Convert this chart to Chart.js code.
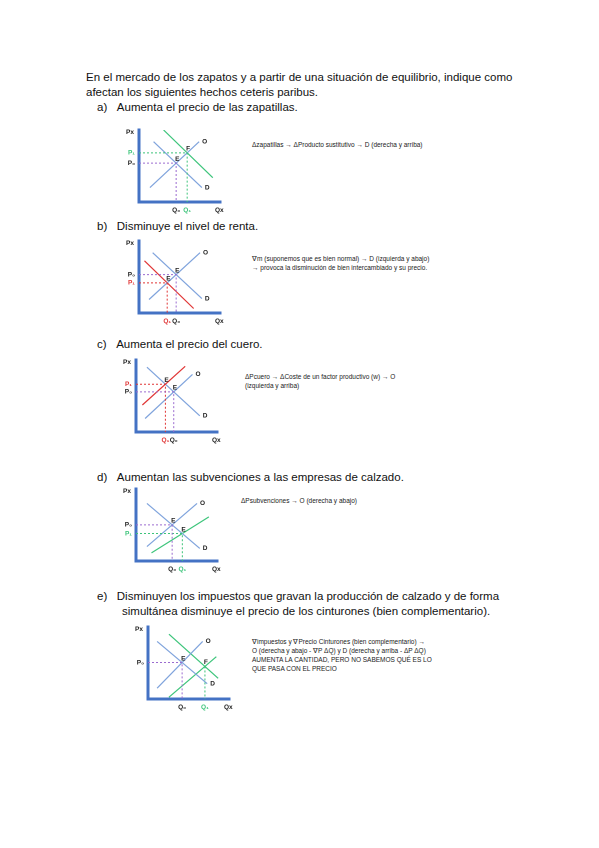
<!DOCTYPE html>
<html><head><meta charset="utf-8">
<script src="https://cdn.jsdelivr.net/npm/chart.js@4.4.0/dist/chart.umd.min.js"></script>
<style>
body{margin:0;background:#fff;font-family:"Liberation Sans",Arial,sans-serif;color:#111}
.t{position:absolute;font-size:11.5px;white-space:nowrap}
.s{position:absolute;font-size:6.5px;line-height:9px;white-space:nowrap;color:#222}
canvas{position:absolute}
</style></head><body>
<div class="t" style="left:86px;top:71px">En el mercado de los zapatos y a partir de una situación de equilibrio, indique como</div>
<div class="t" style="left:86px;top:86px">afectan los siguientes hechos ceteris paribus.</div>
<div class="t" style="left:97px;top:101px">a)&nbsp;&nbsp;&nbsp;Aumenta el precio de las zapatillas.</div>
<div class="t" style="left:97px;top:220px">b)&nbsp;&nbsp;&nbsp;Disminuye el nivel de renta.</div>
<div class="t" style="left:97px;top:338px">c)&nbsp;&nbsp;&nbsp;Aumenta el precio del cuero.</div>
<div class="t" style="left:97px;top:471px">d)&nbsp;&nbsp;&nbsp;Aumentan las subvenciones a las empresas de calzado.</div>
<div class="t" style="left:97px;top:590px">e)&nbsp;&nbsp;&nbsp;Disminuyen los impuestos que gravan la producción de calzado y de forma</div>
<div class="t" style="left:122px;top:605px">simultánea disminuye el precio de los cinturones (bien complementario).</div>
<div class="s" style="left:252px;top:140px">Δzapatillas → ΔProducto sustitutivo → D (derecha y arriba)</div>
<div class="s" style="left:252px;top:254px">∇m (suponemos que es bien normal) → D (izquierda y abajo)<br>→ provoca la disminución de bien intercambiado y su precio.</div>
<div class="s" style="left:245px;top:372px">ΔPcuero → ΔCoste de un factor productivo (w) → O<br>(izquierda y arriba)</div>
<div class="s" style="left:241px;top:496px">ΔPsubvenciones → O (derecha y abajo)</div>
<div class="s" style="left:252px;top:637px">∇impuestos y ∇Precio Cinturones (bien complementario) →<br>O (derecha y abajo - ∇P ΔQ) y D (derecha y arriba - ΔP ΔQ)<br>AUMENTA LA CANTIDAD, PERO NO SABEMOS QUÉ ES LO<br>QUE PASA CON EL PRECIO</div>

<canvas id="ca"></canvas><canvas id="cb"></canvas><canvas id="cc"></canvas><canvas id="cd"></canvas><canvas id="ce"></canvas>
<script>
const BLUE = '#7fa3dc', AXIS = '#4472c4', GREEN = '#3cc47a', RED = '#e03535', PURPLE = '#9b6bd0';

// curves: [start, end] in local units (x 0..90, y 0..80)
const chartA = { id: 'ca', axisX: 131, bottom: 210,
  curves: [{ n: 'O', p: [[12, 16], [66, 67]], c: BLUE, lab: 'O' }, { n: 'D', p: [[16, 67], [69, 16]], c: BLUE, lab: 'D' }, { n: 'D1', p: [[27, 80], [81, 27]], c: GREEN }],
  eq: [{ a: 'O', b: 'D', lab: 'E', c: PURPLE, tc: '#222', p: 'P₀', q: 'Q₀' }, { a: 'O', b: 'D1', lab: 'F', c: GREEN, tc: GREEN, p: 'P₁', q: 'Q₁' }] };
const chartB = { id: 'cb', axisX: 131, bottom: 321,
  curves: [{ n: 'O', p: [[11, 15], [67, 67]], c: BLUE, lab: 'O' }, { n: 'D', p: [[15, 67], [69, 16]], c: BLUE, lab: 'D' }, { n: 'D1', p: [[6, 58], [60, 5]], c: RED }],
  eq: [{ a: 'O', b: 'D', lab: 'E', c: PURPLE, tc: '#222', p: 'P₀', q: 'Q₀' }, { a: 'O', b: 'D1', lab: 'E', c: RED, tc: RED, p: 'P₁', q: 'Q₁' }] };
const chartC = { id: 'cc', axisX: 128, bottom: 440,
  curves: [{ n: 'O', p: [[10, 15], [62, 64]], c: BLUE, lab: 'O' }, { n: 'O1', p: [[7, 30], [54, 73]], c: RED }, { n: 'D', p: [[12, 72], [70, 18]], c: BLUE, lab: 'D' }],
  eq: [{ a: 'O', b: 'D', lab: 'E', c: PURPLE, tc: '#222', p: 'P₀', q: 'Q₀' }, { a: 'O1', b: 'D', lab: 'E', c: RED, tc: RED, p: 'P₁', q: 'Q₁' }] };
const chartD = { id: 'cd', axisX: 128, bottom: 569,
  curves: [{ n: 'O', p: [[12, 16], [67, 64]], c: BLUE, lab: 'O' }, { n: 'D', p: [[12, 64], [70, 14]], c: BLUE, lab: 'D' }, { n: 'O1', p: [[17, 9], [80, 49]], c: GREEN }],
  eq: [{ a: 'O', b: 'D', lab: 'E', c: PURPLE, tc: '#222', p: 'P₀', q: 'Q₀' }, { a: 'O1', b: 'D', lab: 'E', c: GREEN, tc: GREEN, p: 'P₁', q: 'Q₁' }] };
const chartE = { id: 'ce', axisX: 140, bottom: 707,
  curves: [{ n: 'O', p: [[10, 12], [60, 64]], c: BLUE, lab: 'O' }, { n: 'D', p: [[10, 64], [65, 17]], c: BLUE, lab: 'D' }, { n: 'D1', p: [[23, 72], [77, 23]], c: GREEN }, { n: 'O1', p: [[23, 2], [75, 47]], c: GREEN }],
  eq: [{ a: 'O', b: 'D', lab: 'E', c: PURPLE, tc: '#222', p: 'P₀', q: 'Q₀' }, { a: 'O1', b: 'D1', lab: 'F', c: GREEN, tc: GREEN, q: 'Q₁', onlyQ: true }] };

function cross(l1, l2) {
  const [[x1, y1], [x2, y2]] = l1, [[x3, y3], [x4, y4]] = l2;
  const d = (x1 - x2) * (y3 - y4) - (y1 - y2) * (x3 - x4);
  const t = ((x1 - x3) * (y3 - y4) - (y1 - y3) * (x3 - x4)) / d;
  return [x1 + t * (x2 - x1), y1 + t * (y2 - y1)];
}

const labels = {
  id: 'labels',
  afterDatasetsDraw(chart, args, opts) {
    const { ctx, scales: { x, y } } = chart;
    ctx.save();
    ctx.font = 'bold 6.5px "Liberation Sans"';
    ctx.textBaseline = 'middle';
    ctx.fillStyle = '#222';
    ctx.textAlign = 'right'; ctx.fillText('Px', x.left - 5, y.top + 2);
    ctx.textAlign = 'left'; ctx.fillText('Qx', x.right - 6, y.bottom + 8);
    opts.cfg.curves.forEach(c => {
      if (!c.lab) return;
      const e = c.p[1];
      ctx.fillText(c.lab, x.getPixelForValue(e[0]) + 3, y.getPixelForValue(e[1]));
    });
    opts.pts.forEach(e => {
      ctx.textAlign = 'left';
      ctx.fillStyle = '#222';
      ctx.fillText(e.lab, x.getPixelForValue(e.x) - 1, y.getPixelForValue(e.y) - 4);
      ctx.fillStyle = e.tc;
      if (e.p) { ctx.textAlign = 'right'; ctx.fillText(e.p, x.left - 4, y.getPixelForValue(e.y)); }
      ctx.textAlign = 'center';
      ctx.fillText(e.q, x.getPixelForValue(e.x), y.bottom + 8);
    });
    ctx.restore();
  }
};

function draw(cfg) {
  const padL = 25, padT = 6, padR = 15, padB = 14;
  const cv = document.getElementById(cfg.id);
  cv.width = 90 + padL + padR;
  cv.height = 80 + padT + padB;
  cv.style.left = (cfg.axisX - padL) + 'px';
  cv.style.top = (cfg.bottom - 80 - padT) + 'px';
  const byName = {};
  cfg.curves.forEach(c => byName[c.n] = c.p);
  const pts = cfg.eq.map(e => { const [px, py] = cross(byName[e.a], byName[e.b]); return Object.assign({ x: px, y: py }, e); });
  const datasets = [];
  pts.forEach(e => {
    const data = e.onlyQ ? [{ x: e.x, y: e.y }, { x: e.x, y: 0 }] : [{ x: 0, y: e.y }, { x: e.x, y: e.y }, { x: e.x, y: 0 }];
    datasets.push({ data, borderColor: e.c, borderWidth: 1, borderDash: [2, 2], pointRadius: 0, showLine: true });
  });
  cfg.curves.forEach(c => datasets.push({ data: c.p.map(([x, y]) => ({ x, y })), borderColor: c.c, borderWidth: 1.2, pointRadius: 0, showLine: true }));
  new Chart(cv, {
    type: 'scatter',
    data: { datasets },
    options: {
      responsive: false, animation: false, devicePixelRatio: 2,
      layout: { padding: { left: padL, top: padT, right: padR, bottom: padB } },
      plugins: { legend: { display: false }, tooltip: { enabled: false }, labels: { cfg, pts } },
      scales: {
        x: { type: 'linear', min: 0, max: 90, ticks: { display: false }, grid: { display: false }, border: { color: AXIS, width: 3 } },
        y: { type: 'linear', min: 0, max: 80, ticks: { display: false }, grid: { display: false }, border: { color: AXIS, width: 3 } }
      }
    },
    plugins: [labels]
  });
}

[chartA, chartB, chartC, chartD, chartE].forEach(draw);
</script>
</body></html>
